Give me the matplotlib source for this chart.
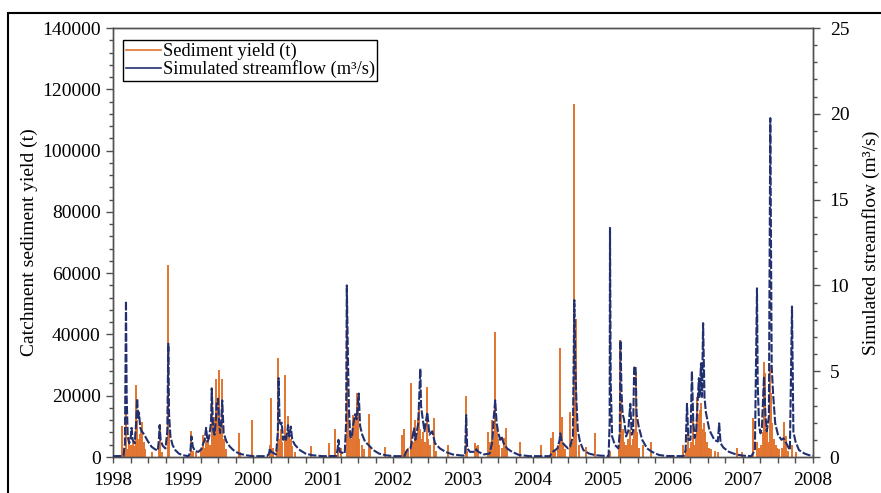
import matplotlib
matplotlib.use("Agg")
import matplotlib.pyplot as plt
from matplotlib.patches import Rectangle
from matplotlib.ticker import MultipleLocator, FormatStrFormatter

plt.rcParams['font.family'] = ['Liberation Serif', 'DejaVu Serif']
plt.rcParams['font.size'] = 14

# Daily catchment sediment yield events (decimal year, tonnes)
sed_dates = [
    1998.13, 1998.16, 1998.19, 1998.21, 1998.23, 1998.26, 1998.28, 1998.30, 1998.33, 1998.345,
    1998.36, 1998.38, 1998.40, 1998.42, 1998.44, 1998.46, 1998.56, 1998.65, 1998.67, 1998.70,
    1998.78, 1998.80,
    1999.12, 1999.14, 1999.19, 1999.25, 1999.29, 1999.31, 1999.33, 1999.36, 1999.38, 1999.41,
    1999.43, 1999.44, 1999.46, 1999.47, 1999.49, 1999.51, 1999.52, 1999.54, 1999.56, 1999.58,
    1999.61, 1999.80, 1999.82, 1999.99,
    2000.24, 2000.26, 2000.28, 2000.34, 2000.36, 2000.38, 2000.40, 2000.42, 2000.46, 2000.48,
    2000.50, 2000.52, 2000.54, 2000.56, 2000.60, 2000.83,
    2001.09, 2001.17, 2001.22, 2001.25, 2001.34, 2001.36, 2001.39, 2001.41, 2001.43, 2001.45,
    2001.47, 2001.48, 2001.50, 2001.52, 2001.55, 2001.58, 2001.65, 2001.67, 2001.89,
    2002.13, 2002.15, 2002.19, 2002.22, 2002.25, 2002.27, 2002.29, 2002.31, 2002.33, 2002.35,
    2002.37, 2002.39, 2002.41, 2002.43, 2002.45, 2002.48, 2002.50, 2002.53, 2002.58, 2002.62,
    2002.79,
    2003.04, 2003.06, 2003.17, 2003.19, 2003.22, 2003.35, 2003.38, 2003.41, 2003.43, 2003.45,
    2003.46, 2003.48, 2003.50, 2003.52, 2003.55, 2003.58, 2003.61, 2003.63, 2003.81,
    2004.11, 2004.25, 2004.28, 2004.31, 2004.36, 2004.38, 2004.39, 2004.41, 2004.43, 2004.46,
    2004.53, 2004.56, 2004.58, 2004.60, 2004.62, 2004.65, 2004.75, 2004.89,
    2005.10, 2005.23, 2005.25, 2005.26, 2005.28, 2005.30, 2005.33, 2005.36, 2005.38, 2005.40,
    2005.43, 2005.45, 2005.47, 2005.49, 2005.52, 2005.57, 2005.68,
    2006.15, 2006.18, 2006.21, 2006.24, 2006.26, 2006.28, 2006.30, 2006.33, 2006.35, 2006.37,
    2006.38, 2006.40, 2006.42, 2006.44, 2006.46, 2006.48, 2006.51, 2006.55, 2006.60, 2006.64,
    2006.92, 2006.98,
    2007.14, 2007.20, 2007.23, 2007.26, 2007.28, 2007.30, 2007.31, 2007.33, 2007.35, 2007.37,
    2007.39, 2007.40, 2007.42, 2007.44, 2007.47, 2007.49, 2007.52, 2007.56, 2007.59, 2007.61,
    2007.64, 2007.70, 2007.76,
]
sed_tonnes = [
    10100, 3000, 15000, 2500, 6600, 4000, 5500, 3500, 23500, 12000,
    6000, 7500, 9000, 11500, 5000, 2500, 1700, 4000, 10700, 1500,
    62500, 8000,
    8600, 2000, 1500, 2500, 7200, 3000, 5500, 5000, 4000, 21900,
    9000, 13000, 6000, 25400, 15000, 28400, 19000, 8000, 25400, 6000,
    2500, 7700, 1500, 12100,
    4000, 19400, 3000, 2500, 32400, 6000, 9000, 5000, 26800, 7000,
    13500, 8000, 6000, 3500, 1500, 3600,
    4500, 9000, 2500, 3000, 50000, 15000, 8000, 6000, 13700, 13000,
    8000, 20800, 20600, 6000, 4000, 2500, 13900, 3000, 3200,
    7100, 9000, 2000, 3000, 24300, 4000, 5000, 12000, 7000, 12600,
    15300, 9000, 6000, 8000, 5000, 23000, 6000, 4000, 12600, 2000,
    3900,
    20000, 2000, 4500, 3500, 4000, 8000, 5000, 12100, 6000, 40900,
    28400, 10000, 6000, 4000, 3000, 6100, 9400, 3000, 5000,
    3900, 6100, 8000, 2000, 4000, 35700, 18000, 13200, 4000, 2500,
    14800, 5000, 115300, 10000, 45100, 4000, 3400, 7700,
    2000, 3000, 38200, 17500, 9000, 5000, 4000, 6000, 8800, 4000,
    6000, 9000, 27900, 8000, 3000, 3900, 5000,
    3900, 2500, 8000, 3000, 5000, 13200, 4000, 6000, 19700, 14000,
    15300, 17500, 9000, 11000, 8300, 5000, 3000, 2500, 2000, 1500,
    2800, 1500,
    12600, 5000, 3000, 4000, 8000, 31100, 27300, 6000, 9000, 5000,
    30000, 20800, 11000, 6000, 4000, 3000, 2500, 3000, 11500, 7000,
    2000, 4000, 1500,
]

# Simulated streamflow (decimal year, m3/s)
flow_dates = [
    1998.00, 1998.15, 1998.17, 1998.185, 1998.195, 1998.21, 1998.23, 1998.25, 1998.265, 1998.28,
    1998.31, 1998.33, 1998.345, 1998.36, 1998.37, 1998.39, 1998.41, 1998.43, 1998.46, 1998.50,
    1998.55, 1998.60, 1998.64, 1998.655, 1998.665, 1998.68, 1998.71, 1998.75, 1998.775, 1998.79,
    1998.80, 1998.82, 1998.85, 1998.89, 1998.94,
    1999.00, 1999.08, 1999.105, 1999.12, 1999.14, 1999.17, 1999.22, 1999.26, 1999.29, 1999.31,
    1999.33, 1999.35, 1999.37, 1999.40, 1999.41, 1999.43, 1999.45, 1999.47, 1999.48, 1999.50,
    1999.515, 1999.53, 1999.545, 1999.56, 1999.58, 1999.62, 1999.67, 1999.72, 1999.80, 1999.90,
    2000.00, 2000.20, 2000.23, 2000.24, 2000.26, 2000.33, 2000.355, 2000.365, 2000.38, 2000.40,
    2000.41, 2000.43, 2000.45, 2000.47, 2000.49, 2000.50, 2000.52, 2000.54, 2000.56, 2000.60,
    2000.67, 2000.75, 2000.85,
    2001.00, 2001.19, 2001.21, 2001.22, 2001.24, 2001.31, 2001.33, 2001.34, 2001.355, 2001.37,
    2001.39, 2001.41, 2001.43, 2001.46, 2001.48, 2001.51, 2001.53, 2001.56, 2001.60, 2001.65,
    2001.72, 2001.80, 2001.90,
    2002.00, 2002.16, 2002.20, 2002.25, 2002.28, 2002.30, 2002.32, 2002.36, 2002.39, 2002.40,
    2002.42, 2002.45, 2002.49, 2002.52, 2002.56, 2002.60, 2002.67, 2002.75, 2002.85,
    2003.00, 2003.03, 2003.045, 2003.06, 2003.10, 2003.18, 2003.19, 2003.22, 2003.30, 2003.38,
    2003.42, 2003.44, 2003.46, 2003.48, 2003.50, 2003.53, 2003.55, 2003.58, 2003.63, 2003.70,
    2003.80, 2003.95,
    2004.24, 2004.28, 2004.35, 2004.38, 2004.39, 2004.41, 2004.45, 2004.50, 2004.53, 2004.57,
    2004.59, 2004.605, 2004.62, 2004.64, 2004.67, 2004.72, 2004.80, 2004.90,
    2005.08, 2005.095, 2005.10, 2005.11, 2005.13, 2005.17, 2005.22, 2005.24, 2005.25, 2005.265,
    2005.28, 2005.30, 2005.33, 2005.36, 2005.39, 2005.41, 2005.43, 2005.445, 2005.465, 2005.48,
    2005.51, 2005.56, 2005.63, 2005.70, 2005.80, 2005.90,
    2006.15, 2006.18, 2006.20, 2006.22, 2006.25, 2006.27, 2006.29, 2006.31, 2006.33, 2006.37,
    2006.38, 2006.40, 2006.415, 2006.43, 2006.45, 2006.47, 2006.52, 2006.59, 2006.64, 2006.66,
    2006.68, 2006.72, 2006.80, 2006.90,
    2007.00, 2007.12, 2007.17, 2007.20, 2007.21, 2007.23, 2007.25, 2007.27, 2007.30, 2007.32,
    2007.34, 2007.37, 2007.39, 2007.41, 2007.43, 2007.46, 2007.50, 2007.55, 2007.58, 2007.67,
    2007.70, 2007.72, 2007.75, 2007.80, 2007.88, 2007.95, 2008.00,
]
flow_cms = [
    0.05, 0.06, 0.8, 9.1, 3.5, 1.2, 0.8, 1.0, 1.7, 1.0,
    0.8, 2.0, 3.4, 2.2, 2.6, 1.7, 1.5, 1.4, 1.2, 0.9,
    0.6, 0.45, 0.38, 1.0, 1.85, 1.0, 0.65, 0.5, 1.5, 6.6,
    2.5, 1.2, 0.7, 0.4, 0.2,
    0.1, 0.05, 0.3, 1.2, 0.6, 0.35, 0.3, 0.45, 0.8, 1.0,
    1.7, 0.9, 1.1, 2.0, 4.0, 1.6, 1.3, 2.2, 3.1, 3.4,
    2.0, 1.4, 2.0, 3.3, 1.4, 0.9, 0.6, 0.4, 0.2, 0.1,
    0.05, 0.05, 0.2, 0.5, 0.3, 0.15, 1.5, 4.6, 2.0, 1.9,
    2.0, 1.0, 1.2, 1.0, 1.5, 1.86, 1.2, 1.77, 1.0, 0.7,
    0.4, 0.2, 0.1,
    0.05, 0.06, 0.5, 1.0, 0.3, 0.2, 2.0, 10.0, 6.0, 2.8,
    1.2, 1.1, 1.86, 2.5, 2.2, 3.7, 1.8, 1.3, 0.9, 0.7,
    0.4, 0.2, 0.1,
    0.05, 0.05, 0.4, 0.5, 1.2, 1.67, 1.0, 1.96, 5.15, 3.0,
    2.35, 1.5, 2.6, 1.3, 1.5, 0.8, 0.5, 0.3, 0.15,
    0.08, 0.1, 2.45, 0.5, 0.3, 0.3, 0.45, 0.3, 0.15, 0.2,
    0.9, 2.35, 3.3, 2.0, 1.5, 1.0, 1.2, 0.8, 0.5, 0.3,
    0.12, 0.05,
    0.05, 0.3, 0.5, 1.0, 1.38, 0.9, 0.7, 0.5, 0.6, 1.2,
    9.15, 5.26, 3.3, 1.57, 0.9, 0.4, 0.2, 0.1,
    0.05, 2.0, 13.35, 4.3, 1.2, 0.7, 0.5, 1.5, 6.8, 3.7,
    2.5, 2.2, 1.2, 1.5, 3.1, 1.3, 1.5, 5.2, 5.3, 2.5,
    1.77, 1.0, 0.5, 0.3, 0.12, 0.06,
    0.05, 0.4, 3.1, 1.0, 1.0, 5.0, 2.0, 1.1, 1.5, 4.6,
    3.5, 5.46, 3.5, 7.8, 3.5, 2.6, 1.57, 1.0, 0.9, 1.96,
    0.8, 0.55, 0.3, 0.15,
    0.08, 0.05, 0.4, 9.83, 4.3, 1.8, 1.38, 1.7, 4.7, 2.5,
    1.5, 2.35, 19.75, 5.26, 3.7, 1.96, 1.3, 1.0, 1.1, 0.4,
    8.77, 1.47, 0.9, 0.4, 0.2, 0.1, 0.08,
]

year_ticks = list(range(1998, 2009))

fig = plt.figure(figsize=(8.81, 4.93), dpi=100)
ax = fig.add_axes([0.1283, 0.073, 0.7945, 0.8702])
ax2 = ax.twinx()

sed_color = '#E2742F'
flow_color = '#22306F'
spine_color = '#505050'

ax.vlines(sed_dates, 0, sed_tonnes, color=sed_color, lw=1.4, zorder=2)
ax2.plot(flow_dates, flow_cms, color=flow_color, lw=1.5,
         linestyle=(0, (4, 1)), zorder=3)

ax.set_xlim(1998, 2008)
ax.set_ylim(0, 140000)
ax2.set_ylim(0, 25)

ax.set_xticks(year_ticks)
ax.xaxis.set_major_formatter(FormatStrFormatter('%d'))
ax.xaxis.set_minor_locator(MultipleLocator(0.25))
ax.yaxis.set_major_locator(MultipleLocator(20000))
ax.yaxis.set_minor_locator(MultipleLocator(4000))
ax2.yaxis.set_major_locator(MultipleLocator(5))
ax2.yaxis.set_minor_locator(MultipleLocator(1))

for a in (ax, ax2):
    for s in a.spines.values():
        s.set_color(spine_color)
        s.set_linewidth(1.0)
    a.tick_params(which='major', length=5, width=1, color=spine_color, pad=4)
    a.tick_params(which='minor', length=3, width=1, color=spine_color)
ax.tick_params(axis='x', which='both', length=4, pad=7)
ax2.tick_params(axis='y', which='major', pad=7)

ax.set_ylabel('Catchment sediment yield (t)', labelpad=3)
ax2.set_ylabel('Simulated streamflow (m\u00b3/s)', labelpad=9)

handles = [
    plt.Line2D([], [], color=sed_color, lw=1.2),
    plt.Line2D([], [], color=flow_color, lw=1.2),
]
leg = ax2.legend(handles, ['Sediment yield (t)', 'Simulated streamflow (m\u00b3/s)'],
                 loc='upper left', bbox_to_anchor=(0.014, 0.972), fancybox=False,
                 framealpha=1, edgecolor='black', handlelength=1.9, handletextpad=0.1,
                 borderpad=0.15, labelspacing=0.0, borderaxespad=0, fontsize=13.3)
leg.get_frame().set_linewidth(1.0)

fig.add_artist(Rectangle((8 / 881, -0.1), 1.2, 1.1 - 13 / 493, transform=fig.transFigure,
                         fill=False, edgecolor='black', linewidth=1.5))

fig.savefig('out.png', dpi=100)
